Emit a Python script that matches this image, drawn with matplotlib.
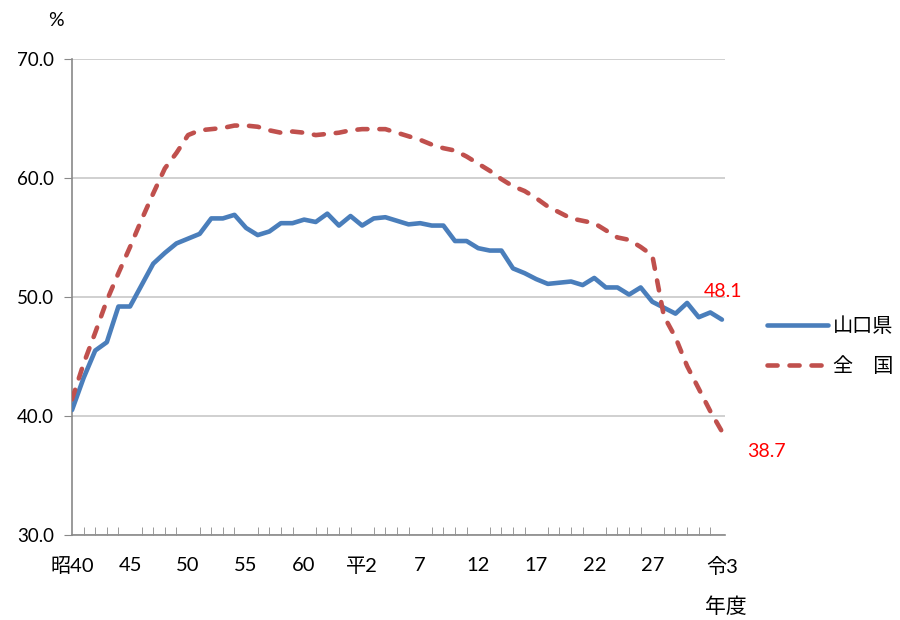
import matplotlib
matplotlib.use('Agg')
import matplotlib.pyplot as plt

plt.rcParams['font.family'] = ['Lato', 'Noto Sans CJK JP', 'DejaVu Sans']

years = list(range(1965, 2022))
# 山口県
yamaguchi = [40.5, 43.2, 45.5, 46.2, 49.2, 49.2, 51.0, 52.8, 53.7, 54.5,
             54.9, 55.3, 56.6, 56.6, 56.9, 55.8, 55.2, 55.5, 56.2, 56.2,
             56.5, 56.3, 57.0, 56.0, 56.8, 56.0, 56.6, 56.7, 56.4, 56.1,
             56.2, 56.0, 56.0, 54.7, 54.7, 54.1, 53.9, 53.9, 52.4, 52.0,
             51.5, 51.1, 51.2, 51.3, 51.0, 51.6, 50.8, 50.8, 50.2, 50.8,
             49.6, 49.1, 48.6, 49.5, 48.3, 48.7, 48.1]
# 全国
zenkoku = [41.4, 44.4, 47.0, 49.7, 52.0, 54.2, 56.5, 58.7, 60.8, 62.1,
           63.6, 64.0, 64.1, 64.2, 64.4, 64.4, 64.3, 64.0, 63.8, 63.9,
           63.8, 63.6, 63.7, 63.8, 64.0, 64.1, 64.1, 64.1, 63.8, 63.5,
           63.2, 62.8, 62.5, 62.3, 61.8, 61.2, 60.6, 59.9, 59.3, 58.9,
           58.3, 57.6, 57.1, 56.6, 56.4, 56.2, 55.6, 55.0, 54.8, 54.2,
           53.5, 48.4, 46.6, 44.2, 42.3, 40.4, 38.7]

label_years = [1965, 1970, 1975, 1980, 1985, 1990, 1995, 2000, 2005, 2010, 2015, 2021]
label_text = ['昭40', '45', '50', '55', '60', '平2', '7', '12', '17', '22', '27', '令3']

fig = plt.figure(figsize=(9, 6.2), dpi=100)
ax = fig.add_axes([0.08, 0.137, 0.726, 0.768])

ax.plot(years, yamaguchi, color='#4A7EBB', lw=3.3, solid_capstyle='round',
        solid_joinstyle='round', label='山口県', zorder=3)
ax.plot(years, zenkoku, color='#C0504D', lw=3.3, linestyle=(0, (2.2, 2.6)),
        dash_capstyle='round', label='全\u3000国', zorder=3)

ax.set_xlim(1965, 2021.3)
ax.set_ylim(30, 70)
ax.set_yticks([30, 40, 50, 60, 70])
ax.set_yticklabels(['30.0', '40.0', '50.0', '60.0', '70.0'], fontsize=13.5)
ax.tick_params(axis='y', direction='out', length=6, color='#898989', pad=7)
ax.grid(axis='y', color='#C8C8C8', lw=1.2)
ax.set_axisbelow(True)

ax.set_xticks(years, minor=True)
ax.set_xticks(label_years)
ax.set_xticklabels(label_text, fontsize=14.5)
ax.tick_params(axis='x', which='major', length=0, pad=16)
ax.tick_params(axis='x', which='minor', direction='in', length=6, color='#898989')

for s in ['top', 'right']:
    ax.spines[s].set_visible(False)
for s in ['left', 'bottom']:
    ax.spines[s].set_color('#898989')
    ax.spines[s].set_linewidth(1.2)

ax.text(2019.4, 50.5, '48.1', color='red', fontsize=14, ha='left', va='center',
        clip_on=False)
ax.text(2023.2, 37.0, '38.7', color='red', fontsize=14, ha='left', va='center',
        clip_on=False)

fig.text(56 / 900, 1 - 20 / 620, '%', fontsize=14, ha='center', va='center')
fig.text(705 / 900, 1 - 607 / 620, '年度', fontsize=15, ha='left', va='center')

fig.legend(loc='center left', bbox_to_anchor=(749 / 900, 1 - 346 / 620),
           frameon=False, fontsize=14.5, handlelength=3.0, labelspacing=1.05,
           handletextpad=0.25)

fig.savefig('out.png', dpi=100)
